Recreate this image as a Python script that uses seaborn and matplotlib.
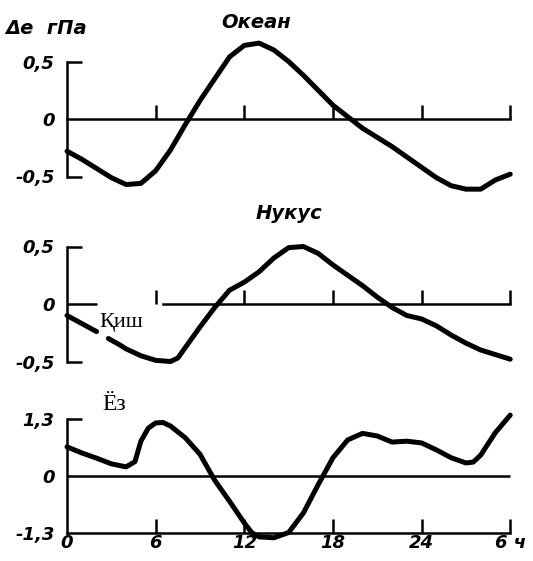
import pandas as pd
import matplotlib
matplotlib.use("Agg")
import matplotlib.pyplot as plt
import seaborn as sns

# hours of day (30 = 6 h of the next day)
hour_ticks = [0, 6, 12, 18, 24, 30]
hour_labels = ["0", "6", "12", "18", "24", "6 ч"]

# Ocean: pressure deviation, hPa
ocean_h = list(range(31))
ocean_de = [-0.28, -0.35, -0.43, -0.51, -0.57, -0.56, -0.45, -0.27, -0.05, 0.16,
            0.35, 0.54, 0.64, 0.66, 0.6, 0.5, 0.38, 0.25, 0.12, 0.02,
            -0.08, -0.16, -0.24, -0.33, -0.42, -0.51, -0.58, -0.61, -0.61, -0.53, -0.48]

# Nukus, winter (curve is broken by the label)
nukus_h = [0, 1, 2, 2.8, 3.5, 4, 5, 6, 7, 7.5, 8, 9, 10, 11, 12, 13, 14, 15, 16,
           17, 18, 19, 20, 21, 22, 23, 24, 25, 26, 27, 28, 29, 30]
nukus_de = [-0.1, -0.17, -0.24, -0.3, -0.35, -0.39, -0.45, -0.49, -0.5, -0.47,
            -0.38, -0.2, -0.03, 0.12, 0.19, 0.28, 0.4, 0.49, 0.5,
            0.44, 0.34, 0.25, 0.16, 0.06, -0.03, -0.1, -0.13, -0.19, -0.27, -0.34, -0.4, -0.44, -0.48]
nukus_seg = [0, 0, 0] + [1] * 30

# Nukus, summer
summer_h = [0, 1, 2, 3, 4, 4.6, 5, 5.5, 6, 6.5, 7, 8, 9, 10, 11, 12, 12.5, 13, 14,
            15, 16, 17, 18, 19, 20, 21, 22, 23, 24, 25, 26, 27, 27.5, 28, 29, 30]
summer_de = [0.67, 0.53, 0.41, 0.28, 0.21, 0.33, 0.8, 1.1, 1.22, 1.23, 1.15, 0.88, 0.5,
             -0.1, -0.58, -1.08, -1.3, -1.4, -1.42,
             -1.3, -0.85, -0.2, 0.42, 0.83, 0.98, 0.92, 0.78, 0.8, 0.76, 0.6, 0.42, 0.3,
             0.32, 0.48, 1.0, 1.4]

sns.set_style("white")
plt.rcParams['font.family'] = ['DejaVu Sans']
plt.rcParams['font.weight'] = 'bold'
plt.rcParams['font.style'] = 'italic'
plt.rcParams['font.size'] = 13
plt.rcParams['text.color'] = 'black'
plt.rcParams['xtick.color'] = 'black'
plt.rcParams['ytick.color'] = 'black'
plt.rcParams['xtick.labelsize'] = 13
plt.rcParams['ytick.labelsize'] = 13

serif = ['Liberation Serif', 'DejaVu Serif']

fig = plt.figure(figsize=(5.33, 5.61), dpi=100)
left, width = 0.098, 0.887

ax1 = fig.add_axes([left, 1 - 205.25 / 561, width, 178.25 / 561])
ax2 = fig.add_axes([left, 1 - 386.8 / 561, width, 165.6 / 561])
ax3 = fig.add_axes([left, 1 - 545.6 / 561, width, 139.2 / 561])

df1 = pd.DataFrame({"h": ocean_h, "de": ocean_de})
df2 = pd.DataFrame({"h": nukus_h, "de": nukus_de, "seg": nukus_seg})
df3 = pd.DataFrame({"h": summer_h, "de": summer_de})

sns.lineplot(data=df1, x="h", y="de", color="black", lw=3.6, ax=ax1)
sns.lineplot(data=df2, x="h", y="de", units="seg", estimator=None, color="black", lw=3.6, ax=ax2)
sns.lineplot(data=df3, x="h", y="de", color="black", lw=3.6, ax=ax3)


def frame(ax, lim, ylo, yhi, ylabels, xlabels=False):
    ax.set_xlim(-1, 31)
    ax.set_ylim(*lim)
    ax.set_facecolor("white")
    for s in ["top", "right"]:
        ax.spines[s].set_visible(False)
    for s in ["left", "bottom"]:
        ax.spines[s].set_linewidth(1.8)
        ax.spines[s].set_color("black")
    ax.spines["left"].set_position(("data", 0))
    ax.spines["left"].set_bounds(ylo, yhi)
    ax.set_yticks([ylo, 0, yhi])
    ax.set_yticklabels(ylabels)
    ax.tick_params(axis="y", direction="in", length=11, width=1.8, pad=9, left=True)
    for loc, t in zip([ylo, 0, yhi], ax.yaxis.get_major_ticks()):
        if loc == 0:
            t.tick1line.set_visible(False)
    ax.tick_params(axis="x", direction="in", length=10, width=1.8, pad=1, bottom=True)
    ax.set_xlabel("")
    ax.set_ylabel("")
    if xlabels:
        ax.set_xticks(hour_ticks)
        ax.set_xticklabels(hour_labels)
    else:
        ax.set_xticks(hour_ticks[1:])
        ax.set_xticklabels([])


frame(ax1, (-0.75, 0.8), -0.5, 0.5, ["-0,5", "0", "0,5"])
ax1.spines["bottom"].set_position(("data", 0))
ax1.spines["bottom"].set_bounds(0, 30)

frame(ax2, (-0.72, 0.72), -0.5, 0.5, ["-0,5", "0", "0,5"])
ax2.spines["bottom"].set_position(("data", 0))
ax2.spines["bottom"].set_bounds(6.5, 30)
ax2.hlines(0, 0, 2.0, color="black", lw=1.8)

frame(ax3, (-1.6, 1.6), -1.3, 1.3, ["-1,3", "0", "1,3"], xlabels=True)
ax3.spines["bottom"].set_position(("data", -1.3))
ax3.spines["bottom"].set_bounds(0, 30)
ax3.hlines(0, 0, 30, color="black", lw=1.8)
for loc, t in zip([-1.3, 0, 1.3], ax3.yaxis.get_major_ticks()):
    if loc == -1.3:
        t.tick1line.set_visible(False)
for loc, t in zip(hour_ticks, ax3.xaxis.get_major_ticks()):
    if loc == 0:
        t.tick1line.set_visible(False)

ax1.text(12.8, 0.84, "Океан", ha="center", va="center", fontsize=14, clip_on=False)
ax2.text(15.0, 0.79, "Нукус", ha="center", va="center", fontsize=14, clip_on=False)
fig.text(5 / 533, 1 - 29 / 561, "Δe  гПа", ha="left", va="center", fontsize=14)
ax2.text(2.2, -0.16, "Қиш", ha="left", va="center", fontsize=16, family=serif,
         fontweight="normal", fontstyle="normal")
ax3.text(2.4, 1.65, "Ёз", ha="left", va="center", fontsize=17, family=serif,
         fontweight="normal", fontstyle="normal", clip_on=False)

fig.savefig("out.png", dpi=100, facecolor="white")
